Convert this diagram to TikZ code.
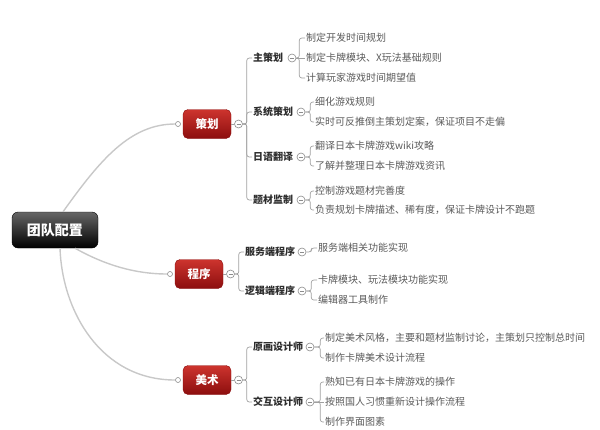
\documentclass[tikz,border=0pt]{standalone}
\usepackage{fontspec}
\setmainfont{Noto Sans CJK SC}
\usetikzlibrary{positioning, calc}

\begin{document}
\begin{tikzpicture}[
    x=1pt, y=-1pt,
    font=\fontsize{10}{12}\selectfont,
    rootbox/.style={
        rectangle, rounded corners=6pt, draw=black, top color=black!60, bottom color=black,
        text=white, font=\fontsize{14}{16}\selectfont\bfseries,
        minimum width=86pt, minimum height=36pt
    },
    catbox/.style={
        rectangle, rounded corners=5pt, draw=catbot, top color=cattop, bottom color=catbot,
        text=white, font=\fontsize{11.5}{14}\selectfont\bfseries,
        minimum width=48pt, minimum height=29pt
    },
    subitem/.style={
        anchor=west, inner sep=1pt, text=subtxt,
        font=\fontsize{10}{12}\selectfont\bfseries
    },
    leaf/.style={
        anchor=west, inner sep=1pt, text=leaftxt
    },
    link/.style={
        draw=linkgray, line width=1.4pt
    },
    bracket/.style={
        draw=brackgray, line width=0.7pt, rounded corners=2.5pt
    },
    fold/.style={
        circle, draw=foldgray, fill=white, minimum size=8pt, inner sep=0pt, line width=0.6pt,
        path picture={\draw[foldgray, line width=0.8pt]
            ([xshift=-2pt]path picture bounding box.center) -- ([xshift=2pt]path picture bounding box.center);}
    },
    dot/.style={
        circle, draw=foldgray, fill=white, minimum size=5pt, inner sep=0pt, line width=0.6pt
    },
]

\definecolor{cattop}{RGB}{205,52,46}
\definecolor{catbot}{RGB}{140,14,14}
\definecolor{subtxt}{RGB}{45,45,45}
\definecolor{leaftxt}{RGB}{90,90,90}
\definecolor{linkgray}{RGB}{200,200,200}
\definecolor{brackgray}{RGB}{160,160,160}
\definecolor{foldgray}{RGB}{140,140,140}

\useasboundingbox (0,0) rectangle (600,429);

% ============================================================
% Root and main branches
% ============================================================

\node[rootbox] (root) at (55,230) {团队配置};

\node[catbox] (p1) at (207,124) {策划};
\node[dot, left=2pt of p1] (in1) {};
\node[fold, right=3pt of p1] (m1) {};

\node[catbox] (p2) at (199,274) {程序};
\node[dot, left=2pt of p2] (in2) {};
\node[fold, right=3pt of p2] (m2) {};

\node[catbox] (p3) at (207,380) {美术};
\node[dot, left=2pt of p3] (in3) {};
\node[fold, right=3pt of p3] (m3) {};

\draw[link] ([xshift=8pt]root.north) .. controls (100,160) and (130,124) .. (in1.west);
\draw[link] ([xshift=20pt]root.south) .. controls (105,265) and (135,274) .. (in2.west);
\draw[link] ([xshift=5pt]root.south) .. controls (62,310) and (100,380) .. (in3.west);

\draw[bracket] (p1.east) -- (m1.west);
\draw[bracket] (p2.east) -- (m2.west);
\draw[bracket] (p3.east) -- (m3.west);

% ============================================================
% 策划
% ============================================================

\node[subitem] (s11) at (252,58) {主策划};
\node[subitem] (s12) at (252,112) {系统策划};
\node[subitem] (s13) at (252,157) {日语翻译};
\node[subitem] (s14) at (252,200) {题材监制};

\node[fold] (ms11) at (292,58) {};
\node[fold] (ms12) at (301,112) {};
\node[fold] (ms13) at (301,157) {};
\node[fold] (ms14) at (301,200) {};

\draw[bracket] (m1.east) -- ++(4,0) |- (s11.west);
\draw[bracket] (m1.east) -- ++(4,0) |- (s12.west);
\draw[bracket] (m1.east) -- ++(4,0) |- (s13.west);
\draw[bracket] (m1.east) -- ++(4,0) |- (s14.west);

\node[leaf] (l111) at (305,38) {制定开发时间规划};
\node[leaf] (l112) at (305,58) {制定卡牌模块、X玩法基础规则};
\node[leaf] (l113) at (305,78) {计算玩家游戏时间期望值};
\node[leaf] (l121) at (314,102) {细化游戏规则};
\node[leaf] (l122) at (314,122) {实时可反推倒主策划定案，保证项目不走偏};
\node[leaf] (l131) at (314,146) {翻译日本卡牌游戏wiki攻略};
\node[leaf] (l132) at (314,166) {了解并整理日本卡牌游戏资讯};
\node[leaf] (l141) at (314,191) {控制游戏题材完善度};
\node[leaf] (l142) at (314,210) {负责规划卡牌描述、稀有度，保证卡牌设计不跑题};

\draw[bracket] (ms11.east) -- ++(3,0) |- (l111.west);
\draw[bracket] (ms11.east) -- (l112.west);
\draw[bracket] (ms11.east) -- ++(3,0) |- (l113.west);
\draw[bracket] (ms12.east) -- ++(5,0) |- (l121.west);
\draw[bracket] (ms12.east) -- ++(5,0) |- (l122.west);
\draw[bracket] (ms13.east) -- ++(5,0) |- (l131.west);
\draw[bracket] (ms13.east) -- ++(5,0) |- (l132.west);
\draw[bracket] (ms14.east) -- ++(5,0) |- (l141.west);
\draw[bracket] (ms14.east) -- ++(5,0) |- (l142.west);

% ============================================================
% 程序
% ============================================================

\node[subitem] (s21) at (244,252) {服务端程序};
\node[subitem] (s22) at (244,291) {逻辑端程序};

\node[fold] (ms21) at (302,252) {};
\node[fold] (ms22) at (302,291) {};

\draw[bracket] (m2.east) -- ++(4,0) |- (s21.west);
\draw[bracket] (m2.east) -- ++(4,0) |- (s22.west);

\node[leaf] (l211) at (317,248) {服务端相关功能实现};
\node[leaf] (l221) at (317,280) {卡牌模块、玩法模块功能实现};
\node[leaf] (l222) at (317,300) {编辑器工具制作};

\draw[bracket] (ms21.east) -- ++(5,0) |- (l211.west);
\draw[bracket] (ms22.east) -- ++(5,0) |- (l221.west);
\draw[bracket] (ms22.east) -- ++(5,0) |- (l222.west);

% ============================================================
% 美术
% ============================================================

\node[subitem] (s31) at (252,347) {原画设计师};
\node[subitem] (s32) at (252,402) {交互设计师};

\node[fold] (ms31) at (310,347) {};
\node[fold] (ms32) at (310,402) {};

\draw[bracket] (m3.east) -- ++(4,0) |- (s31.west);
\draw[bracket] (m3.east) -- ++(4,0) |- (s32.west);

\node[leaf] (l311) at (324,338) {制定美术风格，主要和题材监制讨论，主策划只控制总时间};
\node[leaf] (l312) at (324,358) {制作卡牌美术设计流程};
\node[leaf] (l321) at (324,382) {熟知已有日本卡牌游戏的操作};
\node[leaf] (l322) at (324,402) {按照国人习惯重新设计操作流程};
\node[leaf] (l323) at (324,422) {制作界面图素};

\draw[bracket] (ms31.east) -- ++(6,0) |- (l311.west);
\draw[bracket] (ms31.east) -- ++(6,0) |- (l312.west);
\draw[bracket] (ms32.east) -- ++(6,0) |- (l321.west);
\draw[bracket] (ms32.east) -- (l322.west);
\draw[bracket] (ms32.east) -- ++(6,0) |- (l323.west);

\end{tikzpicture}
\end{document}
